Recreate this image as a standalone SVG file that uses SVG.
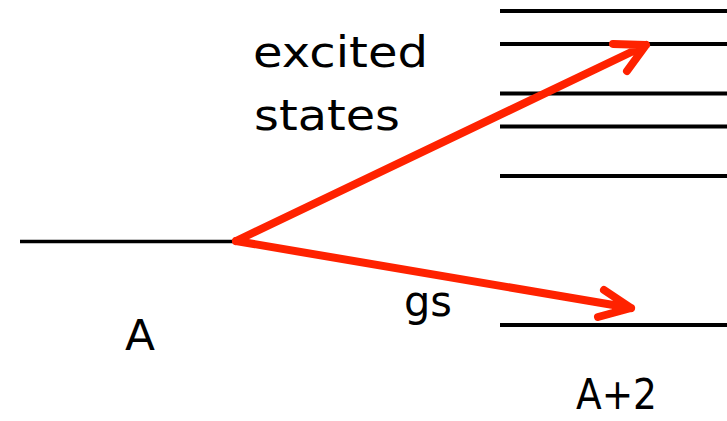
<svg xmlns="http://www.w3.org/2000/svg" width="727" height="421" viewBox="0 0 727 421">
<style>
.lvl{stroke:#000;stroke-width:4;fill:none}
.arr{stroke:#ff2200;stroke-width:8;fill:none;stroke-linecap:round;stroke-linejoin:round}
text{font-family:"DejaVu Sans","Liberation Sans",sans-serif;font-size:43px;fill:#000}
</style>
<rect width="727" height="421" fill="#fff"/>
<g id="levelA"><line class="lvl" x1="20" y1="241.5" x2="236" y2="241.5" style="stroke-width:3.5"/></g>
<g id="levelsA2">
<line class="lvl" x1="500" y1="11" x2="727" y2="11"/>
<line class="lvl" x1="500" y1="44" x2="727" y2="44"/>
<line class="lvl" x1="500" y1="93.5" x2="727" y2="93.5"/>
<line class="lvl" x1="500" y1="126.5" x2="727" y2="126.5"/>
<line class="lvl" x1="500" y1="176" x2="727" y2="176"/>
<line class="lvl" x1="500" y1="325" x2="727" y2="325"/>
</g>
<g id="connectors">
<path class="arr" d="M236 241 L646 45 M613 44 L646 45 L627 71"/>
<path class="arr" d="M236 241 L631 308 M604 290 L631 308 M598 317 L631 308"/>
</g>
<g id="labels">
<text x="253" y="67" textLength="175" lengthAdjust="spacingAndGlyphs">excited</text>
<text x="254" y="130" textLength="146" lengthAdjust="spacingAndGlyphs">states</text>
<text x="404" y="316" textLength="48" lengthAdjust="spacingAndGlyphs">gs</text>
<text x="125" y="350" textLength="30" lengthAdjust="spacingAndGlyphs">A</text>
<text x="576" y="409" textLength="81" lengthAdjust="spacingAndGlyphs">A+2</text>
</g>
</svg>
